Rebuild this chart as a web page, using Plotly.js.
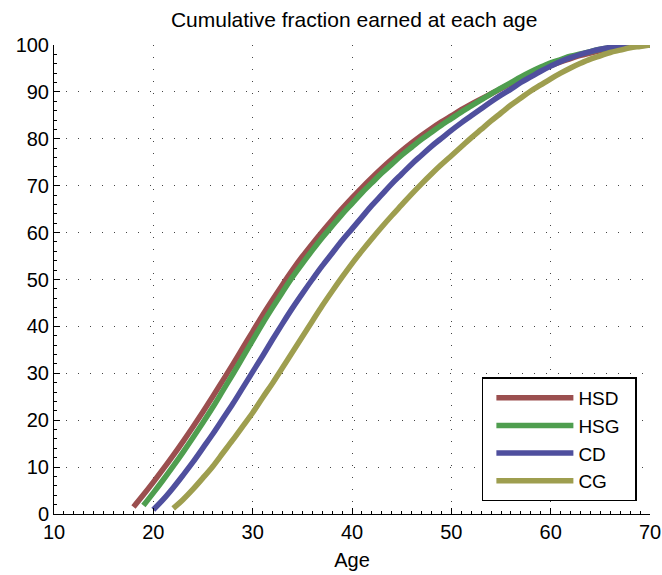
<!DOCTYPE html>
<html>
<head>
<meta charset="utf-8">
<script src="https://cdn.plot.ly/plotly-3.0.1.min.js"></script>
<style>
  html, body { margin: 0; padding: 0; background: #fff; }
  #chart { width: 662px; height: 575px; }
</style>
</head>
<body>
<div id="chart"></div>
<script>
// cumulative % of lifetime earnings
const seriesNames = ['HSD', 'HSG', 'CD', 'CG'];
const seriesColors = ['#9b4f4f', '#4f9e4f', '#4f4f9e', '#9e9e4f'];

const agesHSD = [18,19,20,21,22,23,24,25,26,27,28,29,30,31,32,33,34,35,36,37,38,39,40,41,42,43,44,
                 45,46,47,48,49,50,51,52,53,54,55,56,57,58,59,60,61,62,63,64,65,66,67,68,69,70];
const hsd = [1.5,4.1,6.8,9.6,12.5,15.5,18.6,21.8,25.1,28.5,31.9,35.4,38.9,42.4,45.7,48.9,52.0,54.9,57.6,60.2,
             62.7,65.1,67.4,69.6,71.7,73.7,75.6,77.4,79.1,80.7,82.2,83.6,84.9,86.2,87.4,88.5,89.6,90.7,91.8,
             92.8,93.8,94.7,95.6,96.4,97.1,97.8,98.3,98.8,99.3,99.6,99.8,99.9,100];

const agesHSG = [19,20,21,22,23,24,25,26,27,28,29,30,31,32,33,34,35,36,37,38,39,40,41,42,43,44,
                 45,46,47,48,49,50,51,52,53,54,55,56,57,58,59,60,61,62,63,64,65,66,67,68,69,70];
const hsg = [1.8,4.5,7.3,10.2,13.2,16.3,19.5,22.8,26.3,29.8,33.4,37.0,40.6,44.0,47.3,50.5,53.4,56.2,58.9,
             61.4,63.9,66.2,68.5,70.6,72.7,74.6,76.5,78.2,79.9,81.4,82.9,84.3,85.7,87.0,88.3,89.6,90.8,92.0,
             93.2,94.3,95.3,96.2,96.9,97.6,98.1,98.6,99.1,99.4,99.7,99.9,100,100];

const agesCD = [20,21,22,23,24,25,26,27,28,29,30,31,32,33,34,35,36,37,38,39,40,41,42,43,44,
                45,46,47,48,49,50,51,52,53,54,55,56,57,58,59,60,61,62,63,64,65,66,67,68,69,70];
const cd = [0.9,3.1,5.6,8.3,11.1,14.1,17.1,20.3,23.5,26.9,30.3,33.7,37.2,40.6,43.9,47.0,50.0,52.9,55.6,58.3,
            60.8,63.3,65.8,68.1,70.4,72.5,74.6,76.5,78.4,80.1,81.8,83.4,84.9,86.4,87.9,89.3,90.6,92.0,93.2,
            94.4,95.5,96.5,97.3,98.0,98.6,99.1,99.5,99.8,99.9,100,100];

const agesCG = [22,23,24,25,26,27,28,29,30,31,32,33,34,35,36,37,38,39,40,41,42,43,44,
                45,46,47,48,49,50,51,52,53,54,55,56,57,58,59,60,61,62,63,64,65,66,67,68,69,70];
const cg = [1.2,3.1,5.3,7.7,10.2,13.0,15.8,18.7,21.6,24.8,27.9,31.2,34.5,37.8,41.1,44.4,47.5,50.5,53.4,56.1,
            58.7,61.2,63.6,65.9,68.2,70.4,72.5,74.5,76.4,78.3,80.2,82.0,83.8,85.5,87.2,88.7,90.2,91.5,92.8,
            94.0,95.1,96.1,97.0,97.7,98.4,98.9,99.4,99.7,100];

const xTicks = [10, 20, 30, 40, 50, 60, 70];
const yTicks = [0, 10, 20, 30, 40, 50, 60, 70, 80, 90, 100];

const allX = [agesHSD, agesHSG, agesCD, agesCG];
const allY = [hsd, hsg, cd, cg];

const traces = seriesNames.map((name, i) => ({
    x: allX[i],
    y: allY[i],
    name: name + '\u00a0\u00a0',
    type: 'scatter',
    mode: 'lines',
    line: {color: seriesColors[i], width: 5.5, shape: 'spline', smoothing: 1}
}));

const font = 'Liberation Sans, Arial, Helvetica, sans-serif';

const axisCommon = {
    showline: true,
    linecolor: '#000',
    linewidth: 1,
    mirror: false,
    ticks: 'inside',
    ticklen: 6,
    tickcolor: '#000',
    showgrid: true,
    gridcolor: '#444',
    griddash: '1px,11px',
    gridwidth: 1,
    zeroline: false,
    tickfont: {family: font, size: 20, color: '#000'}
};

const layout = {
    width: 662,
    height: 575,
    margin: {l: 54, r: 12, t: 45, b: 61},
    paper_bgcolor: '#fff',
    plot_bgcolor: '#fff',
    font: {family: font, color: '#000'},
    title: {
        text: 'Cumulative fraction earned at each age',
        font: {family: font, size: 21, color: '#000'},
        x: 0.535, xanchor: 'center', y: 0.965, yanchor: 'middle'
    },
    xaxis: Object.assign({}, axisCommon, {
        range: [10, 70],
        tickvals: xTicks,
        ticktext: xTicks.map(String),
        minor: {dtick: 1, tick0: 10, ticks: 'inside', ticklen: 3, tickcolor: '#000', showgrid: false},
        title: {text: 'Age', font: {family: font, size: 20, color: '#000'}, standoff: 10}
    }),
    yaxis: Object.assign({}, axisCommon, {
        range: [0, 100],
        tickvals: yTicks,
        ticktext: yTicks.map(String),
        minor: {dtick: 2, tick0: 0, ticks: 'inside', ticklen: 3, tickcolor: '#000', showgrid: false}
    }),
    legend: {
        x: 0.978, xanchor: 'right',
        y: 0.027, yanchor: 'bottom',
        bgcolor: '#fff',
        bordercolor: '#000',
        borderwidth: 1.5,
        itemwidth: 77,
        indentation: 8,
        font: {family: font, size: 19, color: '#000'}
    },
    showlegend: true
};

Plotly.newPlot('chart', traces, layout, {displayModeBar: false, staticPlot: true});
</script>
</body>
</html>
